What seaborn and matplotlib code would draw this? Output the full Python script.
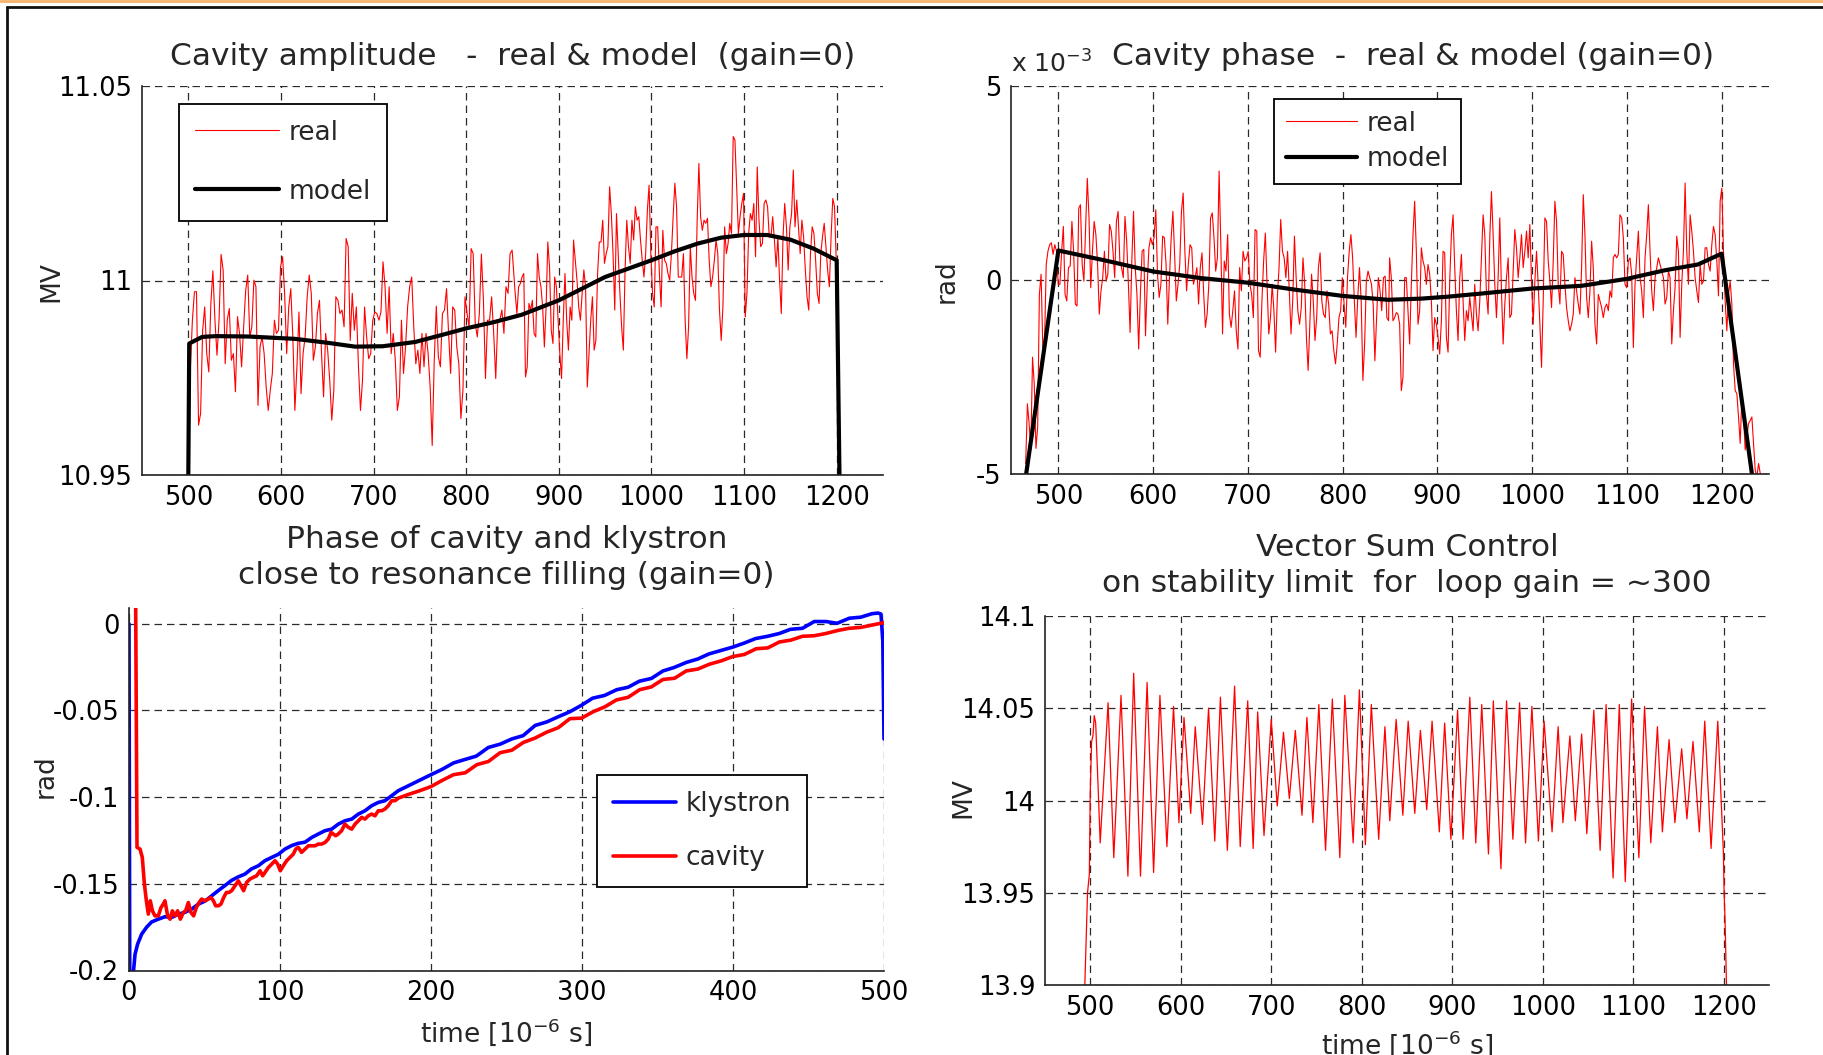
import numpy as np
import matplotlib.pyplot as plt
import seaborn as sns
from matplotlib.lines import Line2D

plt.switch_backend("Agg")

# ---------------- data ----------------
# cavity amplitude (MV), real signal, two stretches of samples
amp_real_a = [
    10.9774, 10.9898, 10.9971, 10.9971, 10.9628, 10.9658, 10.9872, 10.9932, 10.9812, 10.9765,
    10.9941, 11.0025, 10.9898, 10.9808, 10.9898, 11.0067, 11.0027, 10.9786, 10.9898, 10.9928,
    10.9795, 10.9812, 10.9714, 10.9907, 10.9864, 10.9778, 10.9881, 10.9975, 11.0014, 10.9855,
    10.9881, 11.0001, 10.9984, 10.9679, 10.9829, 10.9855, 10.9812, 10.9726, 10.9666, 10.9718,
    10.9761, 10.9898, 10.9864, 10.9872, 11.0035, 11.0061, 10.9967, 10.9812, 10.9932, 10.9979,
    10.9855, 10.9666, 10.9778, 10.9919, 10.9709, 10.9812, 10.9855, 10.9958, 11.0014, 10.9967,
    10.9795, 10.9829, 10.9915, 10.9949, 10.9812, 10.9701, 10.9864, 10.9821, 10.9744, 10.9641,
    10.9718, 10.9958, 10.9949, 10.9915, 10.9924, 10.9881, 11.0108, 11.0087, 10.9846, 10.9967,
    10.9872, 10.9932, 10.9782, 10.9666, 10.9744, 10.9932, 10.9855, 10.9799, 10.9812, 10.9898,
    10.9919, 10.9915, 10.9898, 10.9919, 11.0048, 10.9984, 10.9864, 10.9984, 10.9812, 10.9864,
    10.9795, 10.9666, 10.9701, 10.9898, 10.9761, 10.9829, 10.9932, 10.9984, 11.0009, 10.9881,
    10.9786, 10.9821, 10.9761, 10.9864, 10.9778, 10.9864, 10.9812, 10.9726, 10.9576, 10.9795,
    10.9934, 10.9804, 10.9778, 10.9915, 10.9924, 10.9979, 10.9864, 10.9761, 10.9932, 10.9924,
    10.9829, 10.9786, 10.9645, 10.9718, 10.9958, 10.9915, 10.9881, 11.0082, 11.0069, 10.9889,
    10.9855, 10.9915, 11.0068, 10.9949, 10.9748, 10.9898, 10.9898, 10.9958, 10.9864, 10.9748,
    10.9898, 10.9898, 10.9924, 10.9864, 10.9984, 10.9967, 11.0069, 11.0078,
]
amp_real_b = [
    10.9967, 10.9915, 10.9984, 10.9992, 11.0009, 11.0018, 10.9752, 10.9778, 10.9941, 10.9924,
    10.9949, 10.9864, 10.9855, 11.0069, 11.0009, 10.9984, 10.9932, 10.9829, 10.9932, 11.0099,
    11.0035, 10.9872, 10.9838, 11.0009, 10.9984, 10.9898, 10.9812, 10.9748, 10.9898, 11.0018,
    10.9898, 10.9821, 10.9932, 10.9898, 11.0104, 11.0052, 11.0001, 10.9932, 10.9898, 10.9967,
    11.0027, 10.9984, 10.9726, 10.9812, 10.9898, 10.9958, 10.9821, 10.9846, 11.0018, 11.0099,
    11.0099, 11.0155, 11.0044, 11.0069, 11.0087, 11.0241, 11.0172, 11.0069, 10.9924, 11.0172,
    11.0069, 10.9967, 10.9881, 10.9821, 11.0027, 11.0155, 11.0087, 11.0044, 11.0155, 11.0104,
    11.0190, 11.0155, 11.0164, 11.0104, 11.0052, 11.0009, 11.0069, 11.0181, 11.0245, 11.0069,
    10.9967, 10.9932, 11.0138, 11.0138, 11.0018, 10.9932, 11.0129, 11.0052, 11.0044, 11.0018,
    11.0001, 11.0069, 11.0164, 11.0250, 11.0190, 11.0009, 11.0009, 11.0009, 11.0069, 10.9898,
    10.9799, 10.9881, 11.0087, 11.0009, 10.9967, 10.9949, 11.0155, 11.0301, 11.0164, 11.0129,
    11.0155, 11.0147, 11.0160, 11.0052, 10.9984, 11.0009, 11.0052, 11.0104, 11.0069, 10.9924,
    10.9846, 10.9932, 11.0138, 11.0069, 11.0095, 11.0147, 11.0121, 11.0370, 11.0361, 11.0241,
    11.0121, 11.0164, 11.0198, 11.0224, 10.9906, 10.9967, 11.0121, 11.0172, 11.0155, 11.0198,
    11.0061, 11.0292, 11.0155, 11.0087, 11.0095, 11.0198, 11.0207, 11.0190, 11.0112, 11.0112,
    11.0164, 11.0104, 11.0035, 11.0112, 11.0001, 10.9915, 11.0112, 11.0198, 11.0138, 11.0027,
    11.0138, 11.0172, 11.0284, 11.0138, 11.0207, 11.0138, 11.0069, 11.0155, 11.0112, 11.0027,
    10.9958, 10.9924, 11.0069, 11.0138, 11.0121, 11.0052, 10.9967, 10.9941, 11.0069, 11.0112,
    11.0147, 11.0087, 11.0027, 10.9984, 11.0112, 11.0211, 11.0190, 11.0052,
]
amp_real_span_a = (502.2, 849.6)
amp_real_span_b = (852.9, 1199.5)

amp_model_t = [500, 501, 515, 530, 565, 615, 650, 680, 710, 745, 780, 800, 830, 860,
               900, 950, 1000, 1025, 1050, 1075, 1100, 1125, 1150, 1175, 1200, 1203]
amp_model_v = [10.95, 10.9838, 10.9855, 10.9857, 10.9856, 10.985, 10.984, 10.983, 10.9831,
               10.9842, 10.9864, 10.9877, 10.9893, 10.9912, 10.9949, 11.0009, 11.0052,
               11.0075, 11.0095, 11.011, 11.0117, 11.0117, 11.0105, 11.0082, 11.0052, 10.95]

# cavity phase (units of 1e-3 rad), real signal
phase_real_a = [
    -4.73, -3.19, -3.70, -4.38, -1.99, -2.68, -4.34, -3.79, -0.37, 0.15,
    -1.74, -1.65, 0.40, 0.74, 0.91, 0.96, 0.66, 0.91, 0.74, -0.11,
    -0.11, 0.74, 1.38, -0.37, -0.54, 0.32, 0.36, 1.51, 0.74, -0.62,
    -0.67, 1.85, 1.94, 0.40, -0.03, 1.34, 2.62, 1.60, -0.20, 0.74,
    1.51, 1.17, 0.40, -0.88, -0.28, 0.06, 0.74, -0.03, 0.15, 1.43,
    1.26, 0.74, 0.06, 1.51, 1.77, 0.49, 0.32, 0.06, 1.64, 1.00,
    -0.11, -1.35, 0.49, 1.77, 0.32, -0.37, -1.78, -0.37, 0.74, 0.79,
    -1.44, -0.11, 0.83, 1.09, 0.91, 1.09, 1.81, 0.15, -0.45, -0.11,
    1.13, 1.09, 0.40, -1.14, 0.06, 1.09, 1.77, 0.66, -0.54, -0.11,
    0.40, 1.77, 2.24, 0.74, -0.28, 0.40, 0.91, 0.83, -0.11, 0.06,
    0.32, -0.62, 0.32, 0.70, -0.37, -1.22, -0.88, -0.11, 1.60, 1.73,
    1.09, 0.23, 0.57, 2.81, 0.91, -1.39, 0.49, 0.23, 1.17, -0.88,
    -1.22, -0.79, -0.28, -1.31, -1.78, 0.32, -0.28, 0.74, 0.49, 0.57,
    0.74, -0.11, -0.37, -0.97, 1.30, 1.26, -1.82, -1.99, -0.54, 0.49,
    1.21, -0.11, -1.39, -0.97, -0.11, -0.79, -1.86, -0.45, 0.32, 1.56,
    0.74, 0.57, 0.06, 0.74, -0.28, -1.39, -0.54, 1.13, 0.06, -0.79,
    -1.14, -0.71, 0.57, -0.11, -1.48, -2.33, -1.14, 0.15, -0.54, -1.56,
    -0.97, 0.32, 0.70, -0.54, -0.88, -0.97, -0.28, -0.62, -1.39, -1.31,
    -1.82, -2.16, -1.65, -0.97, -0.79, 0.06, -0.62, -1.22, 0.06, 0.74,
    1.17, 0.57, -0.54, -1.48, -0.45, 0.32, -0.54, -2.59, -1.65, -0.03,
    0.23, 0.06, -0.11, -0.62, -2.08, -0.97, 0.06, -0.28, -0.79, 0.06,
    0.10, -0.97, -1.05,
]
phase_real_b = [
    0.57, 0.06, -1.05, -0.97, -0.84, -0.88, -1.14, -2.85, -2.50, 0.06,
    0.06, -0.79, -1.65, -0.11, 1.17, 2.03, 0.74, -1.14, -0.79, 0.83,
    0.49, 0.32, -0.11, 0.40, 0.15, -0.54, -1.82, -0.97, -1.14, -1.48,
    -1.91, -1.05, 0.74, 0.70, -1.48, -1.86, -0.03, 1.17, 1.68, 0.32,
    -0.79, -1.56, 0.06, 0.66, -0.54, -1.56, -0.79, -1.05, -0.45, -0.88,
    -1.31, -0.11, -0.88, -1.31, -0.54, 0.57, 1.68, 1.17, -0.37, -0.88,
    1.09, 2.28, 1.17, -0.11, -0.97, 0.06, 1.60, -0.28, -1.65, -0.62,
    0.06, 0.57, -0.97, -0.88, 0.23, 1.30, 0.83, 0.06, 0.57, 1.17,
    0.32, 0.74, 1.26, 0.57, 1.43, -0.03, -1.14, -0.03, 0.74, -0.11,
    -1.14, -2.25, -0.54, 1.60, 1.51, 0.49, -0.03, -0.71, 0.49, 2.03,
    1.51, -0.11, -0.62, 0.74, 0.66, -0.11, -0.71, -1.05, -1.31, -1.14,
    -0.88, 0.06, -0.28, -0.62, -0.88, 0.32, 2.20, 1.17, -0.45, -0.97,
    -0.28, 1.00, 0.32, -1.14, -1.65, -0.37, -0.54, -0.71, -0.97, -0.71,
    -0.62, -0.79, -0.28, -0.45, 0.57, 0.66, 0.57, 0.66, 1.68, 1.60,
    1.09, -0.11, -0.20, 0.49, 0.57, 0.15, -1.74, -0.11, 0.57, 1.26,
    0.06, -0.28, -0.97, 0.57, 1.17, 1.94, 0.74, -0.28, -0.79, 0.06,
    0.32, 0.57, 0.40, 0.23, 0.06, -0.62, -0.45, 0.23, 0.06, -1.65,
    -0.79, -0.20, 1.13, 0.74, -1.48, -0.11, 0.74, 2.50, 0.74, -0.11,
    1.68, 1.26, 0.74, 0.06, -0.28, -0.58, 0.40, -0.11, -0.03, 0.83,
    0.83, 0.40, 0.23, 0.91, 1.38, 1.17, 0.49, -0.41, 2.03, 2.37,
    0.74, -0.54, -1.31, -0.37, -0.03, -0.62, -2.16, -2.85, -2.93, -3.53,
    -4.21, -3.02, -3.53, -4.38, -4.04, -3.70, -3.62, -3.53, -4.21, -4.90,
    -5.07, -4.73, -4.98, -5.07,
]
phase_real_span_a = (465.5, 848.5)
phase_real_span_b = (849.6, 1242.5)

phase_model_t = [466, 500, 550, 600, 650, 700, 750, 800, 848, 883, 911, 946, 1000,
                 1052, 1100, 1140, 1175, 1200, 1232]
phase_model_v = [-5.0, 0.76, 0.5, 0.22, 0.05, -0.07, -0.25, -0.41, -0.51, -0.48, -0.43,
                 -0.35, -0.22, -0.15, 0.03, 0.25, 0.40, 0.68, -5.0]

# phase of klystron / cavity during filling (rad)
klystron_t = [0, 0.5, 2.5, 4, 5.7, 8.4, 11.7, 15, 19.4, 23.8, 28.3, 32.7, 37, 41.5, 46,
              50.3, 54.7, 59, 63.6, 68, 72.4, 76.8, 81, 85.7, 90, 94.5, 98.9, 103.3, 107.7,
              112, 116.6, 121, 125.4, 129.8, 134.2, 138.6, 143, 147.5, 151.9, 156.3, 160.7,
              165.1, 169.5, 174, 178.4, 185, 192, 200, 207, 215, 222.6, 230, 238, 245.8,
              253.5, 261, 269, 276.6, 284, 292, 300, 307, 315, 323, 330.5, 338, 346, 353.6,
              361, 369, 376.7, 384, 392, 400, 407.5, 415, 423, 430.7, 438, 446, 453.8,
              461.5, 469, 477, 484.6, 492, 496, 498, 499.2, 500]
klystron_v = [0.0, -0.205, -0.205, -0.1906, -0.1848, -0.179, -0.175, -0.172, -0.1704,
              -0.169, -0.1694, -0.1675, -0.1665, -0.1646, -0.1617, -0.160, -0.157, -0.154,
              -0.151, -0.148, -0.146, -0.1444, -0.1415, -0.1396, -0.1367, -0.1348, -0.133,
              -0.130, -0.128, -0.1267, -0.126, -0.1233, -0.1213, -0.1194, -0.1185, -0.1156,
              -0.1137, -0.1127, -0.1098, -0.1079, -0.105, -0.1031, -0.1021, -0.0992,
              -0.0963, -0.0935, -0.0905, -0.0871, -0.0842, -0.0803, -0.0783, -0.0764,
              -0.0714, -0.0695, -0.0665, -0.0646, -0.0587, -0.0567, -0.0538, -0.0508,
              -0.0469, -0.043, -0.0414, -0.0381, -0.0367, -0.0332, -0.0316, -0.0273,
              -0.0253, -0.0224, -0.0204, -0.0175, -0.0155, -0.0135, -0.0112, -0.0086,
              -0.0073, -0.0057, -0.0033, -0.0027, 0.0012, 0.0012, 0.0002, 0.0031, 0.0037,
              0.0057, 0.0061, 0.0055, -0.010, -0.0665]

cavity_t = [2.0, 4.3, 5.3, 7.3, 8.8, 10.2, 11.5, 12.8, 14.1, 15.5, 17.2, 19.4, 21.2, 22.7,
            23.8, 25.6, 27.2, 28.7, 30.5, 32.2, 34, 36, 37.5, 39.3, 41, 42.8, 44.6, 46.4,
            48.1, 50.3, 52.5, 54.3, 55.9, 57.4, 59.2, 60.9, 62.7, 64.5, 66.2, 68, 70.2,
            72.4, 74.2, 75.9, 77.9, 80.1, 82.3, 84.5, 86.8, 88.5, 90, 92.3, 94.5, 96.7,
            98.5, 100.2, 102.2, 104.4, 106.6, 108.8, 110.4, 112.1, 114.3, 116.6, 118.8,
            121, 123.2, 125.4, 127.6, 129.8, 132, 133.8, 135.3, 136.9, 138.6, 140.8, 143,
            145.3, 147.5, 149.7, 151.9, 154.1, 156.3, 158.5, 160.7, 162.9, 165.1, 167.3,
            169.5, 171.7, 174, 176.2, 178.4, 185, 192, 199.9, 207.2, 214.9, 222.7, 230.4,
            238, 245.8, 253.5, 261.2, 268.9, 276.6, 284.3, 292, 299.7, 307.4, 315.1,
            322.8, 330.5, 338.2, 345.9, 353.6, 361.3, 369, 376.7, 384.4, 392.1, 399.8,
            407.5, 415.3, 423, 430.7, 438.4, 446, 453.8, 461.5, 469.2, 476.9, 484.6,
            492.3, 500]
cavity_v = [0.03, 0.03, -0.129, -0.130, -0.1348, -0.1502, -0.1598, -0.1675, -0.1598,
            -0.1656, -0.1685, -0.1685, -0.1637, -0.1617, -0.1598, -0.1685, -0.1704,
            -0.1656, -0.1685, -0.1656, -0.1704, -0.1665, -0.1656, -0.1608, -0.1665,
            -0.1685, -0.1637, -0.1608, -0.1588, -0.1598, -0.1588, -0.1579, -0.1598,
            -0.1627, -0.1627, -0.1617, -0.1579, -0.155, -0.155, -0.154, -0.1512, -0.1483,
            -0.1512, -0.154, -0.1492, -0.1473, -0.1463, -0.1454, -0.1425, -0.1454,
            -0.1435, -0.1406, -0.1387, -0.1367, -0.1387, -0.1425, -0.1396, -0.1367,
            -0.1348, -0.1329, -0.130, -0.129, -0.1319, -0.130, -0.1281, -0.1281, -0.1281,
            -0.1271, -0.1271, -0.1262, -0.1242, -0.1204, -0.1213, -0.1223, -0.1213,
            -0.1194, -0.1156, -0.1175, -0.1185, -0.1156, -0.1137, -0.1117, -0.1127,
            -0.1108, -0.1098, -0.1108, -0.1079, -0.1079, -0.1069, -0.105, -0.1021,
            -0.1021, -0.1006, -0.0985, -0.0965, -0.0940, -0.0905, -0.0871, -0.0860,
            -0.0813, -0.0795, -0.0744, -0.0730, -0.0685, -0.0660, -0.0626, -0.0600,
            -0.0548, -0.0545, -0.0508, -0.0480, -0.0440, -0.0425, -0.0381, -0.0365,
            -0.0322, -0.0315, -0.0273, -0.0262, -0.0234, -0.0215, -0.0190, -0.0178,
            -0.0145, -0.0140, -0.0106, -0.0095, -0.0073, -0.0070, -0.0057, -0.0040,
            -0.0027, -0.0022, -0.0008, 0.0006]

# vector sum amplitude (MV) with loop gain ~300, turning points of the oscillation
vsum_t = [494, 497, 499, 500, 501.5, 503, 504.4, 506, 511, 519.7, 526, 534, 541.6, 548,
          555.5, 562.8, 570, 577, 584.7, 592, 598, 603.6, 611, 616, 624, 630.7, 637.6,
          643.8, 651.5, 659.5, 665.7, 674, 680, 685, 692, 700, 706.6, 713.5, 720, 726.6,
          734, 739.4, 746, 752.6, 760, 767.5, 775.8, 781.3, 790.5, 797.4, 804, 810.6,
          818.7, 825.6, 831, 838, 845.4, 851.3, 858.6, 864.8, 871.8, 877.7, 885.7, 891.6,
          898.5, 905.9, 912, 919.4, 926, 932.6, 940, 945.4, 953.8, 960, 967, 974.4, 981,
          988, 995.2, 1001.5, 1010.3, 1017, 1022.3, 1030, 1036, 1043, 1048.7, 1056.4,
          1063.4, 1070, 1077.7, 1084.6, 1091.2, 1098.2, 1106.2, 1112.5, 1119.4, 1126.7,
          1132.2, 1139.6, 1146, 1153.5, 1159.3, 1166, 1173, 1179, 1186, 1193.4, 1199.6,
          1200.4, 1201.5, 1203]
vsum_v = [13.90, 13.95, 13.96, 14.005, 14.032, 14.035, 14.046, 14.042, 13.977, 14.053,
          13.969, 14.057, 13.959, 14.069, 13.959, 14.064, 13.961, 14.057, 13.975, 14.051,
          13.988, 14.045, 13.993, 14.040, 13.987, 14.050, 13.978, 14.056, 13.973, 14.062,
          13.975, 14.054, 13.974, 14.048, 13.981, 14.044, 13.997, 14.037, 14.001, 14.038,
          13.992, 14.045, 13.988, 14.052, 13.973, 14.055, 13.969, 14.057, 13.977, 14.060,
          13.976, 14.052, 13.979, 14.040, 13.989, 14.044, 13.992, 14.043, 13.993, 14.038,
          13.995, 14.043, 13.983, 14.042, 13.979, 14.049, 13.979, 14.056, 13.977, 14.052,
          13.971, 14.054, 13.963, 14.054, 13.979, 14.053, 13.977, 14.051, 13.978, 14.043,
          13.983, 14.040, 13.988, 14.035, 13.989, 14.036, 13.982, 14.049, 13.973, 14.052,
          13.958, 14.052, 13.956, 14.055, 13.969, 14.051, 13.977, 14.040, 13.983, 14.033,
          13.988, 14.028, 13.990, 14.032, 13.983, 14.043, 13.974, 14.043, 13.972, 13.950,
          13.934, 13.90]

# ticks
t_ticks = [500, 600, 700, 800, 900, 1000, 1100, 1200]
amp_ticks = [10.95, 11.0, 11.05]
amp_ticklabels = ["10.95", "11", "11.05"]
phase_ticks = [-5, 0, 5]
phase_ticklabels = ["-5", "0", "5"]
fill_t_ticks = [0, 100, 200, 300, 400, 500]
fill_ticks = [-0.2, -0.15, -0.1, -0.05, 0]
fill_ticklabels = ["-0.2", "-0.15", "-0.1", "-0.05", "0"]
vsum_ticks = [13.9, 13.95, 14.0, 14.05, 14.1]
vsum_ticklabels = ["13.9", "13.95", "14", "14.05", "14.1"]

# ---------------- style ----------------
sns.set_style("white")
plt.rcParams["font.family"] = ["DejaVu Sans"]
plt.rcParams["axes.unicode_minus"] = False
plt.rcParams["mathtext.fontset"] = "dejavusans"

RED = "#ff0000"
BLUE = "#0000ff"
TICK_FS = 18.5
TITLE_FS = 22.5
LAB_FS = 19
LEG_FS = 19

W, H = 1824, 1055
fig = plt.figure(figsize=(W / 100, H / 100), dpi=100)
fig.patch.set_facecolor("white")


def style_axes(ax, xlim, ylim, xticks, yticks, yticklabels):
    ax.set_xlim(*xlim)
    ax.set_ylim(*ylim)
    ax.set_xticks(xticks)
    ax.set_xticklabels([str(v) for v in xticks])
    ax.set_yticks(yticks)
    ax.set_yticklabels(yticklabels)
    ax.set_axisbelow(True)
    ax.grid(True, color="#2a2a2a", linestyle=(0, (6, 4)), linewidth=0.9)
    for side in ("top", "right"):
        ax.spines[side].set_visible(False)
    for side in ("left", "bottom"):
        ax.spines[side].set_color("#222222")
        ax.spines[side].set_linewidth(1.2)
    ax.tick_params(direction="in", length=6, width=1, labelsize=TICK_FS,
                   colors="black", pad=7)
    ax.set_xlabel("")
    ax.set_ylabel("")


def legend(ax, anchor, spacing, handlelen, pad=0.6):
    leg = ax.legend(loc="upper left", bbox_to_anchor=anchor, borderaxespad=0,
                    fontsize=LEG_FS, frameon=True, fancybox=False, shadow=False,
                    edgecolor="black", framealpha=1, labelspacing=spacing,
                    handlelength=handlelen, handletextpad=0.35, borderpad=pad)
    leg.get_frame().set_linewidth(1.3)


# ---------------- top left: cavity amplitude ----------------
ax1 = fig.add_axes([142 / W, 1 - 475 / H, 741 / W, 389 / H])
t_a = np.linspace(*amp_real_span_a, len(amp_real_a))
t_b = np.linspace(*amp_real_span_b, len(amp_real_b))
amp_t = np.concatenate([t_a, t_b])
amp_v = np.concatenate([amp_real_a, amp_real_b])
sns.lineplot(x=amp_t, y=amp_v, ax=ax1, color=RED, linewidth=0.8, sort=False,
             estimator=None, label="real")
sns.lineplot(x=amp_model_t, y=amp_model_v, ax=ax1, color="black", linewidth=3,
             sort=False, estimator=None, label="model")
style_axes(ax1, (450, 1250), (10.95, 11.05), t_ticks, amp_ticks, amp_ticklabels)
ax1.set_title("Cavity amplitude   -  real & model  (gain=0)", fontsize=TITLE_FS, pad=15)
ax1.set_ylabel("MV", fontsize=LAB_FS)
ax1.yaxis.set_label_coords(-0.105, 0.496)
legend(ax1, (0.05, 0.954), 1.25, 3.2)

# ---------------- top right: cavity phase ----------------
ax2 = fig.add_axes([1011 / W, 1 - 474 / H, 758 / W, 388 / H])
p_a = np.linspace(*phase_real_span_a, len(phase_real_a))
p_b = np.linspace(*phase_real_span_b, len(phase_real_b))
ph_t = np.concatenate([p_a, p_b])
ph_v = np.concatenate([phase_real_a, phase_real_b])
sns.lineplot(x=ph_t, y=ph_v, ax=ax2, color=RED, linewidth=0.8, sort=False,
             estimator=None, label="real")
sns.lineplot(x=phase_model_t, y=phase_model_v, ax=ax2, color="black", linewidth=3,
             sort=False, estimator=None, label="model")
style_axes(ax2, (450, 1250), (-5, 5), t_ticks, phase_ticks, phase_ticklabels)
ax2.set_title("Cavity phase  -  real & model (gain=0)", fontsize=TITLE_FS, pad=15, x=0.53)
ax2.text(0.0, 1.035, "x 10$^{-3}$", transform=ax2.transAxes, fontsize=18,
         ha="left", va="baseline")
ax2.set_ylabel("rad", fontsize=LAB_FS)
ax2.yaxis.set_label_coords(-0.068, 0.498)
legend(ax2, (0.347, 0.967), 0.35, 2.7, pad=0.45)

# ---------------- bottom left: klystron and cavity phase ----------------
ax3 = fig.add_axes([129 / W, 1 - 970.5 / H, 755 / W, 362.5 / H])
sns.lineplot(x=klystron_t, y=klystron_v, ax=ax3, color=BLUE, linewidth=2.6,
             sort=False, estimator=None, label="klystron")
sns.lineplot(x=cavity_t, y=cavity_v, ax=ax3, color=RED, linewidth=2.6,
             sort=False, estimator=None, label="cavity")
style_axes(ax3, (0, 500), (-0.2, 0.009), fill_t_ticks, fill_ticks, fill_ticklabels)
ax3.set_title("Phase of cavity and klystron\nclose to resonance filling (gain=0)",
              fontsize=TITLE_FS, pad=17, linespacing=1.3)
ax3.set_ylabel("rad", fontsize=LAB_FS)
ax3.yaxis.set_label_coords(-0.093, 0.537)
ax3.set_xlabel("time [10$^{-6}$ s]", fontsize=LAB_FS)
ax3.xaxis.set_label_coords(0.5, -0.128)
legend(ax3, (0.62, 0.538), 1.05, 2.4)

# ---------------- bottom right: vector sum control ----------------
ax4 = fig.add_axes([1045 / W, 1 - 985 / H, 724 / W, 369 / H])
sns.lineplot(x=vsum_t, y=vsum_v, ax=ax4, color=RED, linewidth=0.9, sort=False,
             estimator=None)
style_axes(ax4, (450, 1250), (13.9, 14.1), t_ticks, vsum_ticks, vsum_ticklabels)
ax4.set_title("Vector Sum Control\non stability limit  for  loop gain = ~300",
              fontsize=TITLE_FS, pad=17, linespacing=1.3)
ax4.set_ylabel("MV", fontsize=LAB_FS)
ax4.yaxis.set_label_coords(-0.095, 0.507)
ax4.set_xlabel("time [10$^{-6}$ s]", fontsize=LAB_FS)
ax4.xaxis.set_label_coords(0.5, -0.117)

# frame of the original screenshot
fig.add_artist(Line2D([0, 1], [1 - 1 / H, 1 - 1 / H], transform=fig.transFigure,
                      color="#f6b26b", linewidth=2))
fig.add_artist(Line2D([7.5 / W, 1], [1 - 7 / H, 1 - 7 / H], transform=fig.transFigure,
                      color="#111111", linewidth=2))
fig.add_artist(Line2D([7.5 / W, 7.5 / W], [0, 1 - 7 / H], transform=fig.transFigure,
                      color="#111111", linewidth=2))

fig.savefig("out.png", dpi=100)
plt.close(fig)
